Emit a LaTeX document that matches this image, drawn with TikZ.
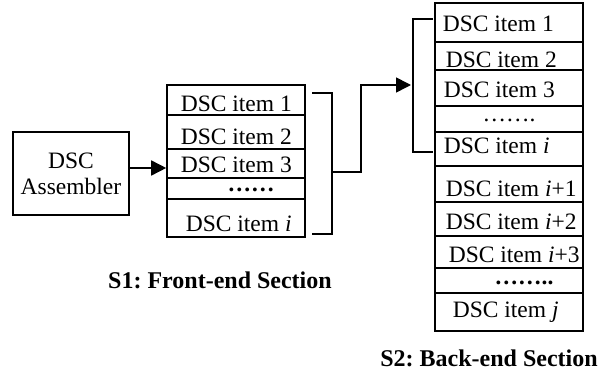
\documentclass[tikz,border=0pt]{standalone}
\usepackage{fontspec}
\setmainfont{Liberation Serif}
\usetikzlibrary{arrows.meta}
\frenchspacing
\begin{document}
\begin{tikzpicture}[x=1pt,y=-1pt, line width=1.6pt,
  txt/.style={font=\fontsize{23.5}{26}\selectfont, inner sep=0pt, anchor=base west},
  dots/.style={font=\fontsize{23.5}{26}\selectfont, inner sep=0pt, anchor=base, text height=4pt, text depth=0pt},
  lbl/.style={font=\fontsize{24}{28}\selectfont\bfseries, inner sep=0pt, anchor=base},
  frow/.style={draw, inner sep=0pt, minimum width=138pt, minimum height=#1},
  brow/.style={draw, inner sep=0pt, minimum width=148pt, minimum height=#1},
  arr/.style={-{Triangle[length=15pt,width=15pt]}}]
\useasboundingbox (0,0) rectangle (600,374);

% assembler
\node[draw, inner sep=0pt, minimum width=116pt, minimum height=83pt, align=center,
      font=\fontsize{23.5}{26}\selectfont] (asm) at (71,173.5) {DSC\\Assembler};

% front-end stack
\node[frow=30pt] (f1) at (236,100) {};
\node[frow=34pt] (f2) at (236,132) {};
\node[frow=29pt] (f3) at (236,163.5) {};
\node[frow=21pt] (f4) at (236,188.5) {};
\node[frow=38pt] (f5) at (236,218) {};
\node[txt] (tf1) at (180,112) {DSC item 1};
\node[txt] (tf2) at (180,145) {DSC item 2};
\node[txt] (tf3) at (180,173) {DSC item 3};
\node[dots] (tf4) at (251,192) {\textbf{……}};
\node[txt] (tf5) at (185,232) {DSC item \textit{i}};

% back-end stack
\node[brow=39pt] (b1) at (509,22.5) {};
\node[brow=28pt] (b2) at (509,56) {};
\node[brow=36pt] (b3) at (509,88) {};
\node[brow=26pt] (b4) at (509,119) {};
\node[brow=34pt] (b5) at (509,149) {};
\node[brow=36pt] (b6) at (509,184) {};
\node[brow=34pt] (b7) at (509,219) {};
\node[brow=32pt] (b8) at (509,252) {};
\node[brow=25pt] (b9) at (509,280.5) {};
\node[brow=38pt] (b10) at (509,312) {};
\node[txt] (tb1) at (442,32) {DSC item 1};
\node[txt] (tb2) at (445,68) {DSC item 2};
\node[txt] (tb3) at (443,98) {DSC item 3};
\node[dots] (tb4) at (509,122) {…….};
\node[txt] (tb5) at (443,154) {DSC item \textit{i}};
\node[txt] (tb6) at (445,197) {DSC item \textit{i}+1};
\node[txt] (tb7) at (445,230) {DSC item \textit{i}+2};
\node[txt] (tb8) at (448,263) {DSC item \textit{i}+3};
\node[dots] (tb9) at (524,285) {\textbf{……..}};
\node[txt] (tb10) at (452,317) {DSC item \textit{j}};

% labels
\node[lbl] (s1) at (220,288) {S1: Front-end Section};
\node[lbl] (s2) at (489,366) {S2: Back-end Section};

% connectors
\coordinate (fbt) at (312,93);
\coordinate (fbb) at (312,234);
\coordinate (fmid) at (332,172);
\coordinate (bbt) at (433,19);
\coordinate (bbb) at (433,152);
\coordinate (btip) at (411,85);

\draw[arr] (asm.east |- 0,168) -- (f3.west |- 0,168);
\draw (fbt) -- (fbt -| fmid) -- (fbb -| fmid) -- (fbb);
\draw[arr] (fmid) -- ++(29,0) |- (btip);
\draw (bbt) -- (bbt -| 413,0) -- (bbb -| 413,0) -- (bbb);
\end{tikzpicture}
\end{document}
